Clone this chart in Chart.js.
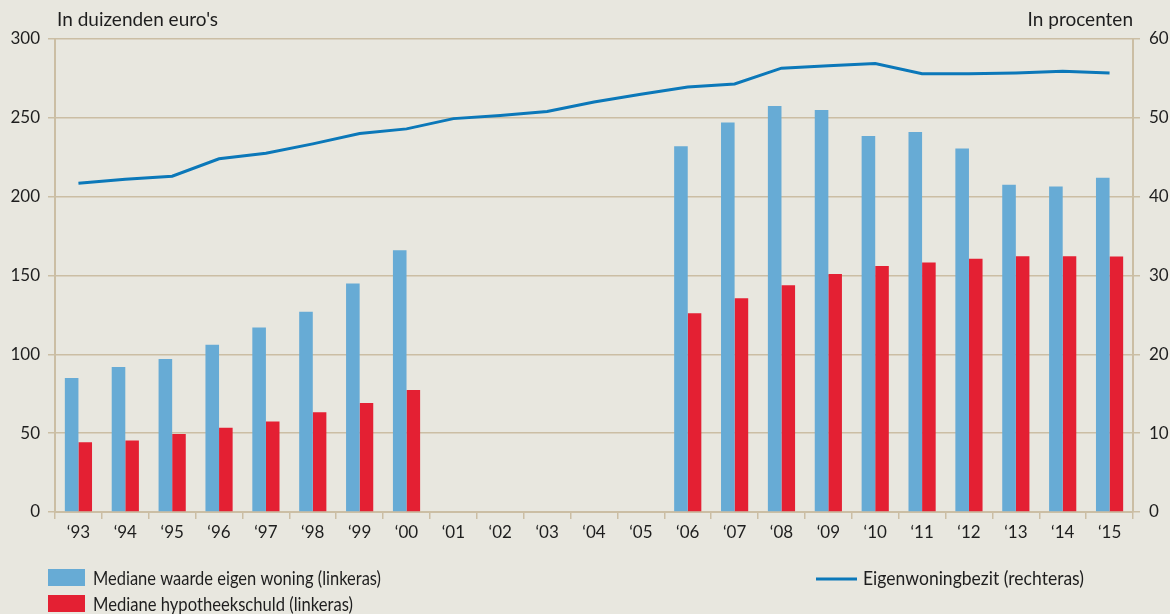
<!DOCTYPE html>
<html>
<head>
<meta charset="utf-8">
<script src="https://cdn.jsdelivr.net/npm/chart.js@4.4.1/dist/chart.umd.min.js"></script>
<style>
  html, body { margin: 0; padding: 0; background: #e8e7df; }
  #wrap { position: relative; width: 1170px; height: 614px; overflow: hidden; }
  canvas { position: absolute; left: 0; top: 0; }
</style>
</head>
<body>
<div id="wrap">
  <canvas id="c" width="1170" height="614"></canvas>
</div>
<script>
const categories = ["\u201893","\u201894","\u201895","\u201896","\u201897","\u201898","\u201899","\u201800","\u201801","\u201802","\u201803","\u201804","\u201805","\u201806","\u201807","\u201808","\u201809","\u201810","\u201811","\u201812","\u201813","\u201814","\u201815"];
const waardeWoning = [85, 92, 97, 106, 117, 127, 145, 166, null, null, null, null, null, 232, 247, 257.5, 255, 238.5, 241, 230.5, 207.5, 206.5, 212];
const hypotheekschuld = [44.3, 45.3, 49.4, 53.4, 57.4, 63.3, 69.2, 77.3, null, null, null, null, null, 126, 135.6, 143.8, 150.9, 156, 158.2, 160.7, 162.2, 162.2, 162];
const eigenwoningbezit = [41.7, 42.2, 42.6, 44.8, 45.5, 46.7, 48.0, 48.6, 49.9, 50.3, 50.8, 52.0, 53.0, 53.9, 54.3, 56.3, 56.6, 56.9, 55.6, 55.6, 55.7, 55.9, 55.7];
const leftTicks = [0, 50, 100, 150, 200, 250, 300];
const rightTicks = [0, 10, 20, 30, 40, 50, 60];
const leftTitle = "In duizenden euro's";
const rightTitle = "In procenten";
const labels = ["Mediane waarde eigen woning (linkeras)", "Mediane hypotheekschuld (linkeras)", "Eigenwoningbezit (rechteras)"];

const BLUE = '#67abd5', RED = '#e42033', LINE = '#0b78b9', GRID = '#cbbea4', TXT = '#1e1e1e';
const FONT = 'Lato, "Open Sans", sans-serif';

const titlePlugin = {
  id: 'titles',
  afterDraw(chart) {
    const ctx = chart.ctx, a = chart.chartArea;
    ctx.save();
    ctx.fillStyle = TXT;
    ctx.font = '19px ' + FONT;
    ctx.textBaseline = 'alphabetic';
    ctx.textAlign = 'left';
    ctx.fillText(leftTitle, a.left + 2, 26);
    ctx.textAlign = 'right';
    ctx.fillText(rightTitle, a.right, 26);
    ctx.restore();
  }
};

const legendPlugin = {
  id: 'customLegend',
  afterDraw(chart) {
    const ctx = chart.ctx;
    const ds = chart.data.datasets;
    ctx.save();
    ctx.font = '19px ' + FONT;
    ctx.fillStyle = TXT;
    ctx.textBaseline = 'middle';
    ctx.textAlign = 'left';
    ctx.fillStyle = ds[0].backgroundColor; ctx.fillRect(48, 569, 37, 17);
    ctx.fillStyle = TXT; ctx.fillText(ds[0].label, 93, 579, 288);
    ctx.fillStyle = ds[1].backgroundColor; ctx.fillRect(48, 595, 37, 17);
    ctx.fillStyle = TXT; ctx.fillText(ds[1].label, 93, 605, 260);
    ctx.strokeStyle = ds[2].borderColor; ctx.lineWidth = 3;
    ctx.beginPath(); ctx.moveTo(816, 579); ctx.lineTo(857, 579); ctx.stroke();
    ctx.fillStyle = TXT; ctx.fillText(ds[2].label, 863, 579, 221);
    ctx.restore();
  }
};

new Chart(document.getElementById('c'), {
  data: {
    labels: categories,
    datasets: [
      { type: 'bar', label: labels[0], data: waardeWoning, backgroundColor: BLUE, yAxisID: 'y', order: 2, categoryPercentage: 0.58, barPercentage: 1.0 },
      { type: 'bar', label: labels[1], data: hypotheekschuld, backgroundColor: RED, yAxisID: 'y', order: 2, categoryPercentage: 0.58, barPercentage: 1.0 },
      { type: 'line', label: labels[2], data: eigenwoningbezit, borderColor: LINE, backgroundColor: LINE, borderWidth: 3, pointRadius: 0, tension: 0, yAxisID: 'y1', order: 1 }
    ]
  },
  options: {
    responsive: false,
    animation: false,
    devicePixelRatio: 1,
    layout: { padding: { top: 39, bottom: 62, left: 0, right: 0 } },
    plugins: { legend: { display: false }, tooltip: { enabled: false } },
    scales: {
      x: {
        offset: true,
        grid: { display: true, offset: true, drawOnChartArea: false, drawTicks: true, tickLength: 7, color: GRID, lineWidth: 1.5 },
        border: { display: true, color: GRID, width: 2 },
        ticks: { color: TXT, font: { family: FONT, size: 17 }, padding: 3, maxRotation: 0, autoSkip: false },
        afterFit(s) { s.height = 40; }
      },
      y: {
        position: 'left',
        min: 0, max: 300,
        afterBuildTicks(s) { s.ticks = leftTicks.map(v => ({ value: v })); },
        grid: { color: GRID, lineWidth: 1.5, tickLength: 7 },
        border: { display: true, color: GRID, width: 2 },
        ticks: { color: TXT, font: { family: FONT, size: 17 }, padding: 8 },
        afterFit(s) { s.width = 55; }
      },
      y1: {
        position: 'right',
        min: 0, max: 60,
        afterBuildTicks(s) { s.ticks = rightTicks.map(v => ({ value: v })); },
        grid: { drawOnChartArea: false, color: GRID, lineWidth: 1.5, tickLength: 7 },
        border: { display: true, color: GRID, width: 2 },
        ticks: { color: TXT, font: { family: FONT, size: 17 }, padding: 9 },
        afterFit(s) { s.width = 37; }
      }
    }
  },
  plugins: [titlePlugin, legendPlugin]
});
</script>
</body>
</html>
